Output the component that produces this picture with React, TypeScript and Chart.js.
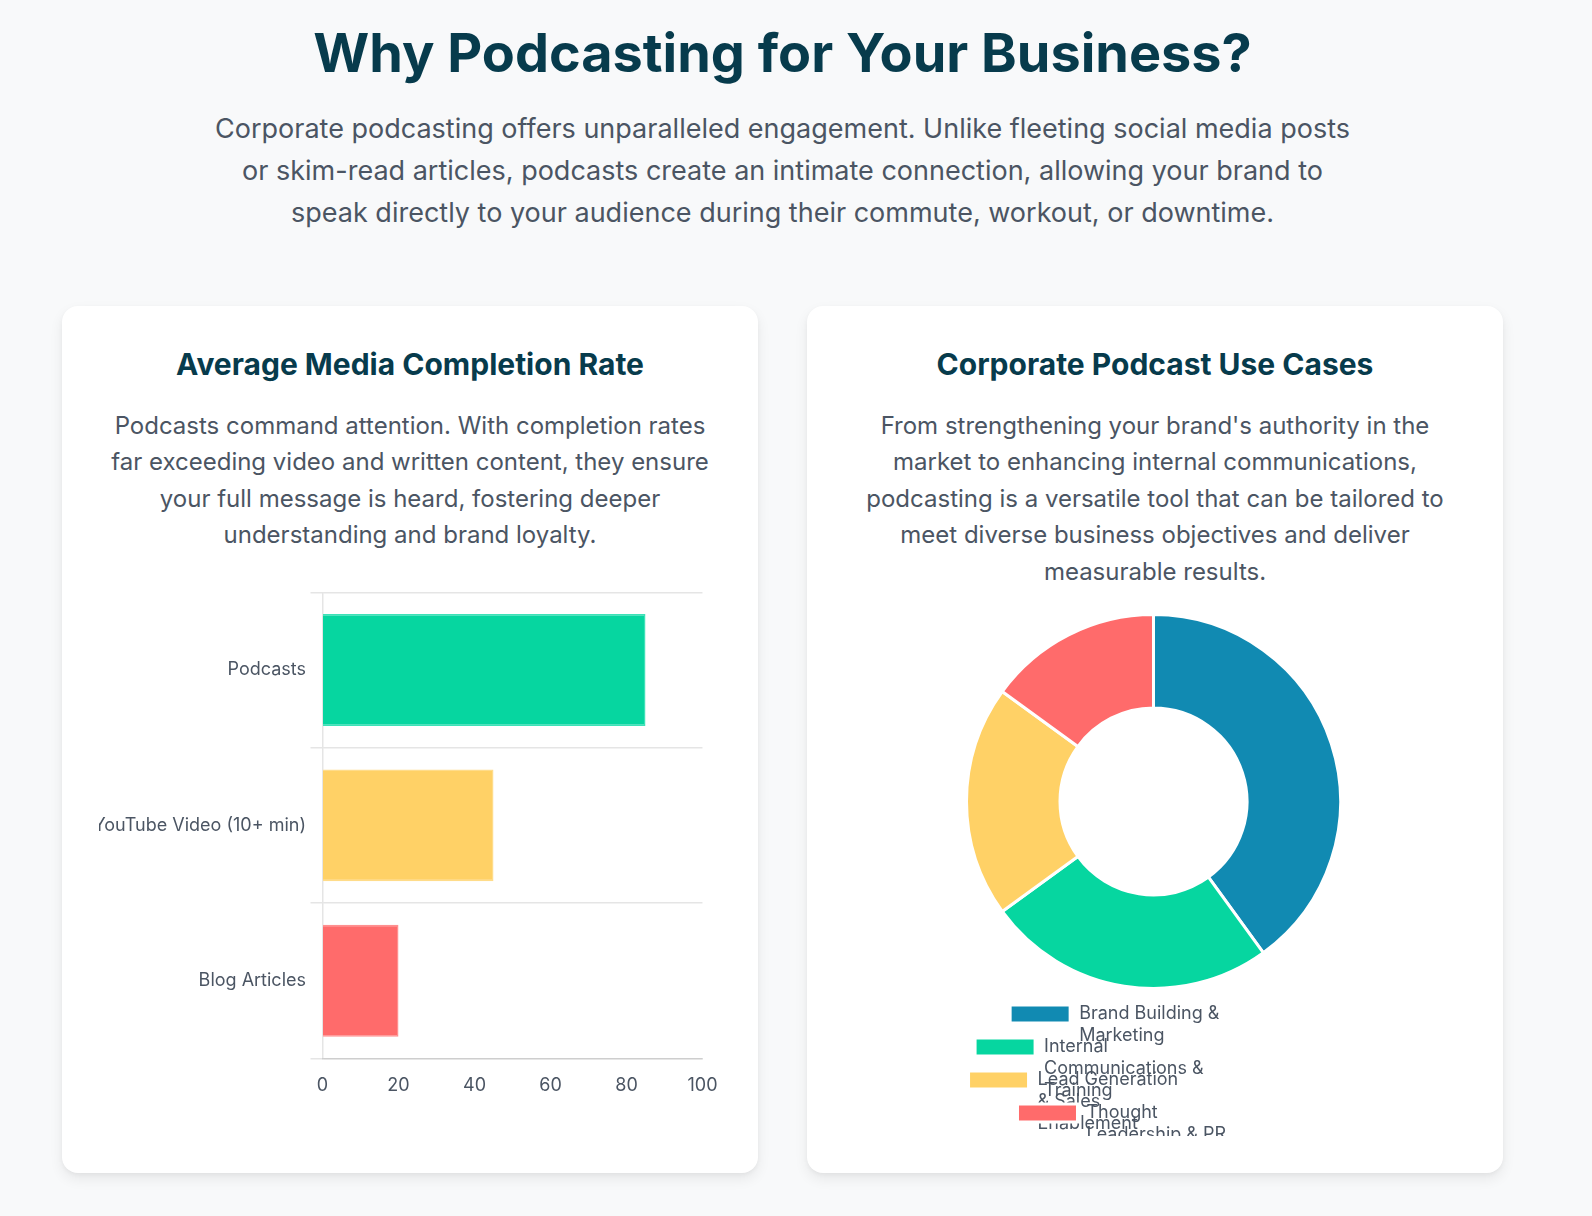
import React, { useEffect, useRef } from "react";
import { Chart, registerables } from "chart.js";

Chart.register(...registerables);

const mediaCategories = ["Podcasts", "YouTube Video (10+ min)", "Blog Articles"];
const completionRates = [85, 45, 20];
const mediaColors = ["#06D6A0", "#FFD166", "#FF6B6B"];
const mediaBorderColors = ["#3DE2B8", "#FFDC8A", "#FF9090"];
const xTickMin = 0;
const xTickMax = 100;
const xTickStep = 20;

const useCaseLabels = [
  ["Brand Building &", "Marketing"],
  ["Internal", "Communications &", "Training"],
  ["Lead Generation", "& Sales", "Enablement"],
  ["Thought", "Leadership & PR"],
];
const useCaseShares = [40, 25, 20, 15];
const useCaseColors = ["#118AB2", "#06D6A0", "#FFD166", "#FF6B6B"];

const TEXT = "#4B5563";
const DARK = "#073B4C";
const FONT = "Inter, 'Noto Sans', sans-serif";

function BarChart() {
  const ref = useRef<HTMLCanvasElement | null>(null);
  useEffect(() => {
    if (!ref.current) return;
    const chart = new Chart(ref.current, {
      type: "bar",
      data: {
        labels: mediaCategories,
        datasets: [
          {
            label: "Completion Rate (%)",
            data: completionRates,
            backgroundColor: mediaColors,
            borderColor: mediaBorderColors,
            borderWidth: 1.5,
          },
        ],
      },
      options: {
        indexAxis: "y",
        animation: false,
        responsive: true,
        maintainAspectRatio: false,
        plugins: { legend: { display: false }, tooltip: { enabled: false } },
        scales: {
          x: {
            min: xTickMin,
            max: xTickMax,
            ticks: { stepSize: xTickStep, color: TEXT, font: { family: FONT, size: 18 }, padding: 4.5 },
            grid: { display: true, drawOnChartArea: false, tickLength: 12, tickColor: "rgba(0,0,0,0)" },
            border: { display: true, color: "rgba(0,0,0,0.1)", width: 1.5 },
          },
          y: {
            ticks: { color: TEXT, font: { family: FONT, size: 18 }, padding: 4.5 },
            grid: { color: "rgba(0,0,0,0.1)", lineWidth: 1.5, tickLength: 12 },
            border: { display: true, color: "rgba(0,0,0,0.1)", width: 1.5 },
            afterFit: (scale: any) => {
              scale.width = 223.5;
            },
          },
        },
      },
    });
    return () => chart.destroy();
  }, []);
  return <canvas ref={ref} />;
}

const legendRowTrim = {
  id: "legendRowTrim",
  beforeDraw(chart: any) {
    const lg = chart.legend;
    if (lg && Array.isArray(lg.lineWidths)) {
      lg.lineWidths = lg.lineWidths.map((w: number) => w - 13);
      lg.bottom = lg.bottom + 4;
    }
  },
};

function DonutChart() {
  const ref = useRef<HTMLCanvasElement | null>(null);
  useEffect(() => {
    if (!ref.current) return;
    const chart = new Chart(ref.current, {
      type: "doughnut",
      data: {
        labels: useCaseLabels as any,
        datasets: [
          {
            data: useCaseShares,
            backgroundColor: useCaseColors,
            borderColor: "#ffffff",
            borderWidth: 3,
          },
        ],
      },
      options: {
        animation: false,
        responsive: true,
        maintainAspectRatio: false,
        cutout: "50%",
        layout: { padding: { bottom: 4 } },
        plugins: {
          tooltip: { enabled: false },
          legend: {
            position: "bottom",
            labels: {
              color: TEXT,
              font: { family: FONT, size: 18 },
              boxWidth: 60,
              padding: 15,
            },
          },
        },
      },
      plugins: [legendRowTrim],
    });
    return () => chart.destroy();
  }, []);
  return <canvas ref={ref} />;
}

const cardStyle: React.CSSProperties = {
  position: "absolute",
  top: 306,
  width: 696,
  height: 867,
  background: "#ffffff",
  borderRadius: 16,
  boxShadow: "0 6px 14px rgba(0,0,0,0.07), 0 2px 4px rgba(0,0,0,0.04)",
};

const cardTitle: React.CSSProperties = {
  position: "absolute",
  left: 0,
  width: "100%",
  top: 37.5,
  textAlign: "center",
  fontSize: 30,
  lineHeight: "40px",
  fontWeight: 700,
  color: DARK,
  fontFamily: FONT,
};

const cardText: React.CSSProperties = {
  position: "absolute",
  left: 0,
  width: "100%",
  top: 101.5,
  textAlign: "center",
  fontSize: 24,
  lineHeight: "36.5px",
  color: TEXT,
  fontFamily: FONT,
};

export default function App() {
  return (
    <div
      style={{
        position: "relative",
        width: 1592,
        height: 1216,
        background: "#F8F9FA",
        overflow: "hidden",
        fontFamily: FONT,
      }}
    >
      <style>{`body{margin:0;background:#F8F9FA;}`}</style>
      <div
        style={{
          position: "absolute",
          left: 62,
          width: 1441,
          top: 21,
          textAlign: "center",
          fontSize: 54,
          lineHeight: "64px",
          fontWeight: 700,
          color: DARK,
        }}
      >
        Why Podcasting for Your Business?
      </div>
      <div
        style={{
          position: "absolute",
          left: 62,
          width: 1441,
          top: 108,
          textAlign: "center",
          fontSize: 27,
          lineHeight: "42px",
          color: TEXT,
        }}
      >
        Corporate podcasting offers unparalleled engagement. Unlike fleeting social media posts
        <br />
        or skim-read articles, podcasts create an intimate connection, allowing your brand to
        <br />
        speak directly to your audience during their commute, workout, or downtime.
      </div>

      <div style={{ ...cardStyle, left: 62 }}>
        <div style={cardTitle}>Average Media Completion Rate</div>
        <div style={cardText}>
          Podcasts command attention. With completion rates
          <br />
          far exceeding video and written content, they ensure
          <br />
          your full message is heard, fostering deeper
          <br />
          understanding and brand loyalty.
        </div>
        <div style={{ position: "absolute", left: 36.5, top: 271, width: 623, height: 524 }}>
          <BarChart />
        </div>
      </div>

      <div style={{ ...cardStyle, left: 807 }}>
        <div style={cardTitle}>Corporate Podcast Use Cases</div>
        <div style={cardText}>
          From strengthening your brand's authority in the
          <br />
          market to enhancing internal communications,
          <br />
          podcasting is a versatile tool that can be tailored to
          <br />
          meet diverse business objectives and deliver
          <br />
          measurable results.
        </div>
        <div style={{ position: "absolute", left: 35, top: 307, width: 623, height: 523 }}>
          <DonutChart />
        </div>
      </div>
    </div>
  );
}
